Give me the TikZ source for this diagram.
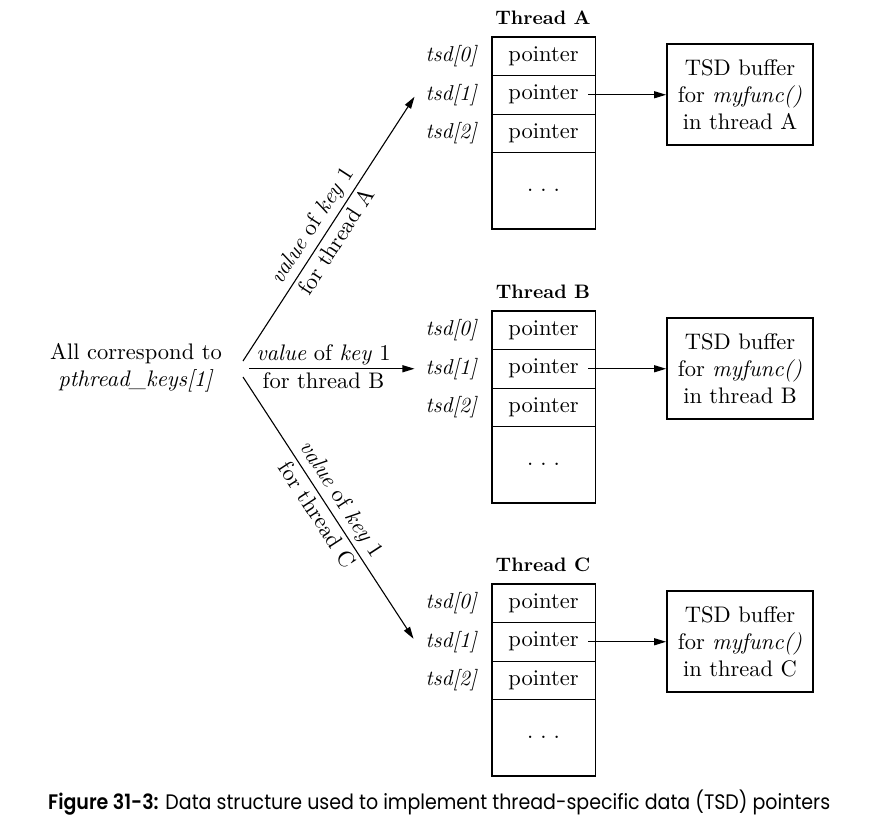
\documentclass[tikz,border=0pt]{standalone}
\usepackage{fontspec}
\usepackage{graphicx}
\setmainfont{lmroman10-regular.otf}[ItalicFont=lmroman10-italic.otf, BoldFont=lmroman10-bold.otf, BoldItalicFont=lmroman10-bolditalic.otf]
\newfontfamily\capfont{Poppins}[BoldFont={Poppins SemiBold}]
\usetikzlibrary{arrows.meta,calc}
\begin{document}
\begin{tikzpicture}[x=1pt,y=-1pt,
  txt/.style={font=\fontsize{22.5}{27}\selectfont, inner sep=2pt},
  cell/.style={txt, draw, line width=0.9pt, minimum width=103pt, minimum height=38.5pt, inner sep=0pt},
  dotcell/.style={cell, minimum height=76pt},
  frame/.style={draw, line width=1.7pt},
  title/.style={font=\fontsize{19.5}{22}\selectfont\bfseries, inner sep=2pt},
  idx/.style={txt, anchor=east, font=\fontsize{21.5}{26}\selectfont\itshape},
  buf/.style={txt, draw, line width=1.7pt, minimum width=146pt, minimum height=101pt, align=center},
  ptr/.style={line width=1.1pt, -{Triangle[length=12pt,width=7pt]}},
  lab/.style={txt, inner sep=4pt}
]
\useasboundingbox (0,0) rectangle (886,833);

\foreach \t/\dy in {A/0,B/274,C/547}{
  \node[title] (title\t) at (543,18+\dy) {Thread \t};
  \node[cell] (p\t0) at (543.5,56.25+\dy) {pointer};
  \node[cell] (p\t1) at (543.5,94.75+\dy) {pointer};
  \node[cell] (p\t2) at (543.5,133.25+\dy) {pointer};
  \node[dotcell] (d\t) at (543.5,190.5+\dy) {.\hspace{7pt}.\hspace{7pt}.};
  \draw[frame] (p\t0.north west) rectangle (d\t.south east);
  \node[idx] (t\t0) at (479,56.25+\dy) {tsd[0]};
  \node[idx] (t\t1) at (479,94.75+\dy) {tsd[1]};
  \node[idx] (t\t2) at (479,133.25+\dy) {tsd[2]};
  \node[buf] (buf\t) at (740,94.5+\dy) {TSD buffer\\for \textit{myfunc()}\\in thread \t};
  \draw[ptr] ([xshift=-7pt]p\t1.east) -- (p\t1.east -| buf\t.west);
}

\node[txt, align=center] (all) at (136,368) {All correspond to\\\textit{pthread\_keys[1]}};

\coordinate (apexA) at (243,361);
\coordinate (apexB) at (249,368.75);
\coordinate (apexC) at (243,377);

\draw[ptr] (apexA) --
  node[lab, sloped, above, pos=0.48] (lA1) {\textit{value} of \textit{key} 1}
  node[lab, sloped, below, pos=0.48] (lA2) {for thread A}
  ($(tA1.west)+(-9,2)$);
\draw[ptr] (apexB) --
  node[lab, above, pos=0.45, inner sep=3pt] (lB1) {\textit{value} of \textit{key} 1}
  node[lab, below, pos=0.45, inner sep=3pt] (lB2) {for thread B}
  ($(tB1.west)+(-9,0)$);
\draw[ptr] (apexC) --
  node[lab, sloped, above, pos=0.5] (lC1) {\textit{value} of \textit{key} 1}
  node[lab, sloped, below, pos=0.5] (lC2) {for thread C}
  ($(tC1.west)+(-10,-3)$);

\node[anchor=base west, inner sep=0pt] (cap) at (48,809)
  {\resizebox{782pt}{\height}{\capfont\fontsize{21}{21}\selectfont\textbf{Figure 31-3:} Data structure used to implement thread-specific data (TSD) pointers}};
\end{tikzpicture}
\end{document}
